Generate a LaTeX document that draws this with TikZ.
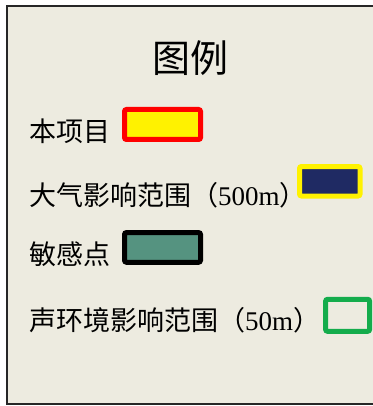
\documentclass[tikz,border=0pt]{standalone}
\usepackage{fontspec}
\setmainfont{Liberation Serif}
\newfontfamily\cjk{Noto Sans CJK SC}
\definecolor{paper}{HTML}{EDEBE0}
\definecolor{navy}{HTML}{1F2A63}
\definecolor{sage}{HTML}{559380}
\definecolor{grass}{HTML}{14AC4C}
\begin{document}
\begin{tikzpicture}[x=1pt, y=-1pt,
    every node/.style={inner sep=0pt, outer sep=0pt},
    legendtext/.style={anchor=west, font=\fontsize{27}{27}\selectfont},
    swatch/.style={draw, line width=5pt, rounded corners=2pt}]

\useasboundingbox (0,0) rectangle (372,406);
\fill[paper] (7,6) rectangle (374,404);
\draw[line width=2pt, black!85] (374,6) -- (7,6) -- (7,404) -- (374,404);

\node[font=\fontsize{38}{38}\selectfont\cjk] (title) at (190,58.5) {图例};

\node[legendtext] (proj) at (29,131) {\cjk 本项目};
\node[swatch, draw=red, fill=yellow, minimum width=76, minimum height=30] (projbox) at (162.5,124.5) {};

\node[legendtext] (air) at (29,195) {{\cjk 大气影响范围（}500m{\cjk ）}};
\node[swatch, draw=yellow, fill=navy, minimum width=60.5, minimum height=29.5] (airbox) at (329.75,181.25) {};

\node[legendtext] (sens) at (29,254) {\cjk 敏感点};
\node[swatch, draw=black, fill=sage, minimum width=76, minimum height=29.7] (sensbox) at (162.5,247.4) {};

\node[legendtext] (noise) at (29,320) {{\cjk 声环境影响范围（}50m{\cjk ）}};
\node[swatch, draw=grass, fill=paper, minimum width=44, minimum height=32] (noisebox) at (347.6,315.3) {};

\end{tikzpicture}
\end{document}
